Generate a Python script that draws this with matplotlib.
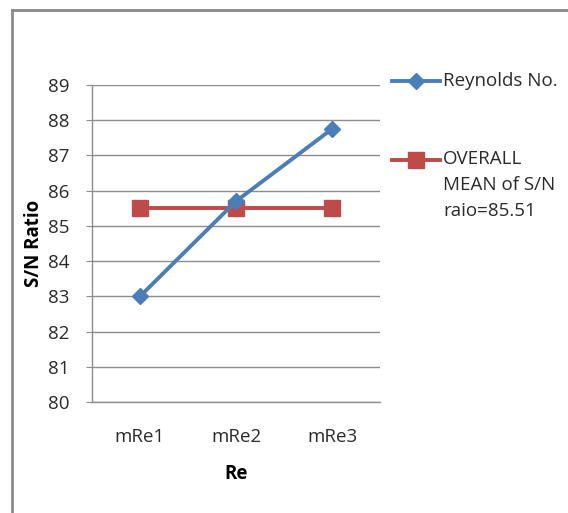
import matplotlib
matplotlib.use("Agg")
import matplotlib.pyplot as plt
from matplotlib.lines import Line2D

categories = ["mRe1", "mRe2", "mRe3"]
reynolds = [83.0, 85.7, 87.75]
overall_mean = [85.51, 85.51, 85.51]
yticks = [80, 81, 82, 83, 84, 85, 86, 87, 88, 89]
series_labels = ["Reynolds No.", "OVERALL\nMEAN of S/N\nraio=85.51"]

BLUE = "#4A7EBB"
RED = "#BE4B48"
GRID = "#8C8C8C"
TXT = "#2A2A2A"
FONT = ["Open Sans", "DejaVu Sans"]
plt.rcParams["font.family"] = FONT
FS = 13.5

W, H = 568, 513
fig = plt.figure(figsize=(W / 100, H / 100), dpi=100)
ax = fig.add_axes([92 / W, 1 - 402 / H, (380 - 92) / W, (402 - 85) / H])

x = list(range(len(categories)))
ax.plot(x, reynolds, color=BLUE, lw=2.8, marker="D", ms=8, mfc=BLUE, mec=BLUE, zorder=4)
ax.plot(x, overall_mean, color=RED, lw=2.8, marker="s", ms=12, mfc=RED, mec=RED, zorder=3)

ax.set_xlim(-0.5, len(categories) - 0.5)
ax.set_ylim(80, 89)
ax.set_yticks(yticks)
ax.set_xticks(x)
ax.set_xticklabels(categories)
ax.grid(axis="y", color=GRID, lw=1)
ax.set_axisbelow(True)
for s in ["top", "right"]:
    ax.spines[s].set_visible(False)
for s in ["left", "bottom"]:
    ax.spines[s].set_color(GRID)
    ax.spines[s].set_linewidth(1)
ax.tick_params(axis="y", length=4, color=GRID, labelsize=FS, labelcolor=TXT, pad=12)
ax.tick_params(axis="x", length=0, labelsize=FS, labelcolor=TXT, pad=19)
ax.set_ylabel("S/N Ratio", fontsize=FS, fontweight="bold", color="black", labelpad=3)
ax.set_xlabel("Re", fontsize=FS, fontweight="bold", color="black", labelpad=13)

def fx(px):
    return px / W
def fy(py):
    return 1 - py / H

# legend (manual)
fig.add_artist(Line2D([fx(392), fx(440)], [fy(81), fy(81)], color=BLUE, lw=2.8,
                      transform=fig.transFigure))
fig.add_artist(Line2D([fx(416)], [fy(81)], color=BLUE, marker="D", ms=8, lw=0,
                      transform=fig.transFigure))
fig.text(fx(443), fy(81), series_labels[0], fontsize=FS, color=TXT, va="center", ha="left")

fig.add_artist(Line2D([fx(392), fx(440)], [fy(160), fy(160)], color=RED, lw=2.8,
                      transform=fig.transFigure))
fig.add_artist(Line2D([fx(416)], [fy(160)], color=RED, marker="s", ms=12, lw=0,
                      transform=fig.transFigure))
fig.text(fx(443), fy(150), series_labels[1], fontsize=FS, color=TXT, va="top", ha="left",
         linespacing=1.58)

# outer chart border
fig.add_artist(Line2D([fx(11.5), fx(11.5)], [fy(9.5), 0], color="#8A8A8A", lw=2,
                      transform=fig.transFigure))
fig.add_artist(Line2D([fx(11.5), 1], [fy(9.5), fy(9.5)], color="#8A8A8A", lw=2,
                      transform=fig.transFigure))

fig.savefig("out.png", dpi=100)
